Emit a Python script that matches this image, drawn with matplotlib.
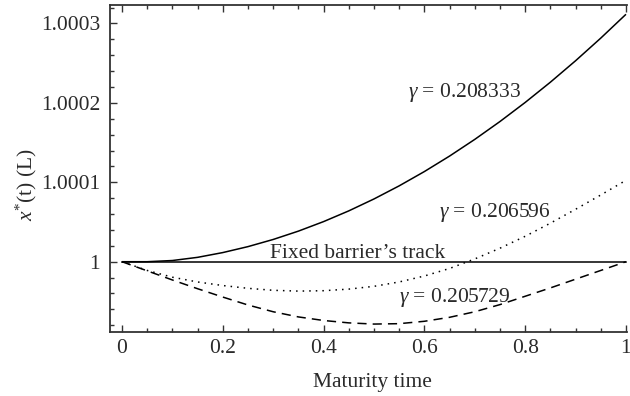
import matplotlib
matplotlib.use("Agg")
import matplotlib.pyplot as plt
from matplotlib.ticker import MultipleLocator

plt.rcParams['font.family'] = ['Liberation Serif', 'DejaVu Serif']
plt.rcParams['mathtext.fontset'] = 'custom'
plt.rcParams['mathtext.rm'] = 'Liberation Serif'
plt.rcParams['mathtext.it'] = 'Liberation Serif:italic'

# Maturity time grid
t = [0.0, 0.05, 0.1, 0.15, 0.2, 0.25, 0.3, 0.35, 0.4, 0.45, 0.5,
     0.55, 0.6, 0.65, 0.7, 0.75, 0.8, 0.85, 0.9, 0.95, 1.0]

# x*(t) deviations from 1, in units of 1e-5
dev_208333 = [0.0, 0.0, 0.15, 0.55, 1.15, 1.9, 2.8, 3.85, 5.05, 6.4, 7.9,
              9.55, 11.35, 13.3, 15.4, 17.65, 20.05, 22.6, 25.3, 28.15, 31.15]
dev_206596 = [0.0, -1.1, -1.95, -2.55, -3.0, -3.35, -3.6, -3.7, -3.65, -3.45, -3.1,
              -2.55, -1.8, -0.85, 0.35, 1.7, 3.2, 4.85, 6.6, 8.4, 10.25]
dev_205729 = [0.0, -1.15, -2.3, -3.4, -4.45, -5.45, -6.3, -6.95, -7.4, -7.7, -7.85,
              -7.8, -7.5, -7.0, -6.3, -5.4, -4.35, -3.3, -2.2, -1.1, 0.0]

fixed_t = [0.0, 1.0]
fixed_x = [1.0, 1.0]

labels = ["$\\gamma$ = 0.208333", "$\\gamma$ = 0.206596", "$\\gamma$ = 0.205729"]
ytick_vals = [1.0, 1.0001, 1.0002, 1.0003]
ytick_labels = ["1", "1.0001", "1.0002", "1.0003"]
xtick_vals = [0, 0.2, 0.4, 0.6, 0.8, 1.0]
xtick_labels = ["0", "0.2", "0.4", "0.6", "0.8", "1"]

s1 = [1 + v * 1e-5 for v in dev_208333]
s2 = [1 + v * 1e-5 for v in dev_206596]
s3 = [1 + v * 1e-5 for v in dev_205729]

fig = plt.figure(figsize=(6.3, 3.96), dpi=100)
ax = fig.add_axes([0.1746, 0.1624, 0.8206, 0.8246])

ax.plot(fixed_t, fixed_x, color='black', lw=1.1)
ax.plot(t, s1, color='black', lw=1.1, solid_capstyle='butt')
ax.plot(t, s2, color='black', lw=1.1, linestyle=(0, (1, 3.3)))
ax.plot(t, s3, color='black', lw=1.1, linestyle=(0, (6, 4)))

txtc = '#2a2a2a'
fs = 15.5
ax.text(0.68, 1.0002075, labels[0], ha='center', va='baseline', fontsize=fs, color=txtc)
ax.text(0.74, 1.0000562, labels[1], ha='center', va='baseline', fontsize=fs, color=txtc)
ax.text(0.467, 1.0000043, "Fixed barrier\u2019s track", ha='center', va='baseline', fontsize=fs, color=txtc)
ax.text(0.66, 0.9999499, labels[2], ha='center', va='baseline', fontsize=fs, color=txtc)

ax.set_xlim(-0.0238, 1.002)
ax.set_ylim(0.9999119, 1.000323)

ax.set_xticks(xtick_vals, xtick_labels)
ax.set_yticks(ytick_vals, ytick_labels)
ax.xaxis.set_minor_locator(MultipleLocator(0.05))
ax.yaxis.set_minor_locator(MultipleLocator(0.00002))

ax.tick_params(which='both', direction='in', top=True, right=False, colors='#333333',
               labelcolor=txtc, labelsize=fs)
ax.tick_params(which='major', length=5, width=1)
ax.tick_params(which='minor', length=3, width=1)
ax.tick_params(axis='y', pad=7)
ax.tick_params(axis='x', pad=5)

for side in ['left', 'bottom', 'top']:
    ax.spines[side].set_linewidth(1.3)
    ax.spines[side].set_color('#333333')
ax.spines['right'].set_visible(False)

ax.set_xlabel("Maturity time", fontsize=fs, color=txtc)
ax.set_ylabel("$x^{*}$(t) (L)", fontsize=fs, color=txtc)
ax.yaxis.set_label_coords(-0.137, 0.45)
ax.xaxis.set_label_coords(0.507, -0.125)

fig.savefig("out.png", dpi=100)
